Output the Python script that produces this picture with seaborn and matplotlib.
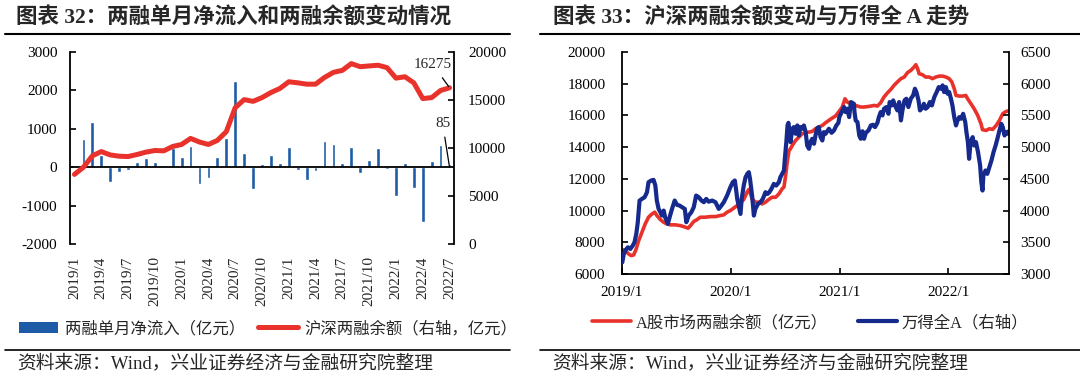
import numpy as np
import pandas as pd
import matplotlib
matplotlib.use("Agg")
import matplotlib.pyplot as plt
from matplotlib.lines import Line2D
from matplotlib.patches import Patch
import seaborn as sns

# style
sns.set_theme(style="white")
plt.rcParams['font.family'] = ['Liberation Serif', 'Noto Sans CJK SC']
plt.rcParams['axes.unicode_minus'] = False

BAR_BLUE = '#1d5ba6'
RED = '#e8322b'
NAVY = '#152a8c'

# ---- left chart data (monthly) ----
months = [f'{p.year}/{p.month}' for p in pd.period_range('2019-01', '2022-07', freq='M')]
net_inflow = [20, 740, 1165, 320, -375, -130, -70, 130, 250, 130,
              10, 510,
              260, 555, -445, -270, 260, 750, 2235, 365, -555, 80, 330, 105,
              530, -85, -330, -95, 695, 600, 113, 520, -150, 175, 513, -40,
              -750, 105, -550, -1435, 150, 575, 85]
margin_month = [7250, 7990, 9180, 9630, 9280, 9145, 9110, 9320, 9570, 9740,
                9705, 10160,
                10370, 11000, 10620, 10370, 10790, 11700, 14200, 15040, 14860, 15250, 15780, 16200,
                16900, 16790, 16650, 16650, 17350, 17880, 18090, 18790, 18470, 18550, 18620, 18370,
                17280, 17420, 16790, 15150, 15250, 15990, 16275]

# ---- right chart data ----
margin_dates = ['2019-01-02', '2019-01-12', '2019-01-23', '2019-02-01', '2019-02-09', '2019-02-17', '2019-02-26', '2019-03-09', '2019-03-20', '2019-03-31',
                '2019-04-12', '2019-04-21', '2019-04-28', '2019-05-10', '2019-05-21', '2019-06-01', '2019-06-12', '2019-06-29', '2019-07-16', '2019-07-27',
                '2019-08-11', '2019-08-19', '2019-08-30', '2019-09-10', '2019-09-21', '2019-10-08', '2019-10-25', '2019-11-11', '2019-11-28', '2019-12-09',
                '2019-12-20', '2019-12-31',
                '2020-01-11', '2020-01-23', '2020-02-03', '2020-02-14', '2020-02-25', '2020-03-02', '2020-03-08', '2020-03-13', '2020-03-24', '2020-04-05',
                '2020-04-16', '2020-04-27', '2020-05-08', '2020-05-19', '2020-05-31', '2020-06-11', '2020-06-22', '2020-06-28', '2020-07-03', '2020-07-09',
                '2020-07-15', '2020-07-20', '2020-07-26', '2020-08-06', '2020-08-17', '2020-08-28', '2020-09-09', '2020-09-20', '2020-10-01', '2020-10-12',
                '2020-10-23', '2020-11-04', '2020-11-15', '2020-11-26', '2020-12-07', '2020-12-18', '2020-12-30',
                '2021-01-10', '2021-01-19', '2021-01-27', '2021-02-07', '2021-02-18', '2021-03-02', '2021-03-13', '2021-03-24', '2021-04-10', '2021-04-27',
                '2021-05-08', '2021-05-19', '2021-05-30', '2021-06-11', '2021-06-22', '2021-07-03', '2021-07-14', '2021-07-26', '2021-08-06', '2021-08-17',
                '2021-08-28', '2021-09-08', '2021-09-14', '2021-09-20', '2021-09-25', '2021-10-06', '2021-10-17', '2021-10-29', '2021-11-09', '2021-11-20',
                '2021-12-02', '2021-12-13', '2021-12-24',
                '2022-01-04', '2022-01-13', '2022-01-21', '2022-01-27', '2022-02-07', '2022-02-18', '2022-03-01', '2022-03-07', '2022-03-18', '2022-03-29',
                '2022-04-10', '2022-04-21', '2022-04-26', '2022-05-08', '2022-05-19', '2022-05-30', '2022-06-11', '2022-06-22', '2022-07-03', '2022-07-14',
                '2022-07-23']
margin_values = [7540, 7480, 7270, 7160, 7200, 7540, 8100, 8630, 9160, 9580,
                 9790, 9900, 9690, 9430, 9260, 9160, 9100, 9100, 9050, 8990,
                 8890, 9050, 9310, 9430, 9580, 9580, 9620, 9620, 9690, 9730,
                 9900, 10000,
                 10150, 10320, 10490, 10700, 11160, 11330, 11050, 10740, 10530, 10530,
                 10420, 10530, 10700, 10840, 10840, 11050, 11370, 11480, 12110, 13050,
                 13790, 13900, 14110, 14420, 14630, 14840, 14910, 14950, 14990, 15160,
                 15260, 15370, 15540, 15690, 15830, 15960, 16250,
                 16530, 17050, 16840, 16740, 16670, 16590, 16530, 16530, 16570, 16630,
                 16590, 16800, 17160, 17430, 17640, 17900, 18110, 18320, 18420, 18700,
                 18840, 19050, 19200, 18950, 18630, 18570, 18420, 18420, 18320, 18420,
                 18480, 18480, 18420,
                 18320, 18110, 17690, 17260, 17220, 17220, 17260, 17050, 16740, 16420,
                 16000, 15470, 15100, 15050, 15160, 15120, 15370, 15690, 16110, 16250,
                 16290]

wind_dates = ['2019-01-02', '2019-01-07', '2019-01-14', '2019-01-21', '2019-01-29', '2019-02-06', '2019-02-12', '2019-02-18', '2019-02-23', '2019-03-01',
              '2019-03-09', '2019-03-18', '2019-03-26', '2019-03-31', '2019-04-09', '2019-04-17', '2019-04-23', '2019-04-28', '2019-05-04', '2019-05-10',
              '2019-05-15', '2019-05-21', '2019-05-26', '2019-06-04', '2019-06-10', '2019-06-18', '2019-06-27', '2019-07-05', '2019-07-13', '2019-07-22',
              '2019-07-31', '2019-08-05', '2019-08-13', '2019-08-22', '2019-08-30', '2019-09-07', '2019-09-16', '2019-09-25', '2019-10-03', '2019-10-11',
              '2019-10-19', '2019-10-31', '2019-11-11', '2019-11-22', '2019-12-01', '2019-12-09', '2019-12-20', '2019-12-31',
              '2020-01-08', '2020-01-15', '2020-01-19', '2020-01-23', '2020-02-03', '2020-02-07', '2020-02-14', '2020-02-20', '2020-02-26', '2020-03-02',
              '2020-03-06', '2020-03-13', '2020-03-19', '2020-03-24', '2020-04-02', '2020-04-10', '2020-04-18', '2020-04-27', '2020-05-04', '2020-05-10',
              '2020-05-17', '2020-05-25', '2020-06-02', '2020-06-11', '2020-06-16', '2020-06-22', '2020-06-28', '2020-07-01', '2020-07-06', '2020-07-10',
              '2020-07-13', '2020-07-17', '2020-07-20', '2020-07-26', '2020-07-31', '2020-08-06', '2020-08-12', '2020-08-17', '2020-08-23', '2020-08-28',
              '2020-09-03', '2020-09-09', '2020-09-14', '2020-09-20', '2020-09-25', '2020-10-01', '2020-10-07', '2020-10-12', '2020-10-18', '2020-10-23',
              '2020-10-29', '2020-11-04', '2020-11-09', '2020-11-15', '2020-11-26', '2020-12-05', '2020-12-13', '2020-12-21', '2020-12-28', '2020-12-31',
              '2021-01-08', '2021-01-16', '2021-01-21', '2021-01-27', '2021-02-02', '2021-02-08', '2021-02-18', '2021-02-20', '2021-02-24', '2021-03-02',
              '2021-03-08', '2021-03-13', '2021-03-19', '2021-03-24', '2021-03-30', '2021-04-08', '2021-04-16', '2021-04-23', '2021-04-30', '2021-05-08',
              '2021-05-13', '2021-05-19', '2021-05-25', '2021-05-30', '2021-06-07', '2021-06-14', '2021-06-18', '2021-06-25', '2021-06-30', '2021-07-06',
              '2021-07-14', '2021-07-20', '2021-07-26', '2021-07-31', '2021-08-07', '2021-08-13', '2021-08-20', '2021-08-28', '2021-09-05', '2021-09-11',
              '2021-09-16', '2021-09-23', '2021-09-28', '2021-10-08', '2021-10-11', '2021-10-17', '2021-10-24', '2021-10-31', '2021-11-07', '2021-11-15',
              '2021-11-23', '2021-11-30', '2021-12-07', '2021-12-13', '2021-12-18', '2021-12-24', '2021-12-30',
              '2022-01-04', '2022-01-10', '2022-01-15', '2022-01-21', '2022-01-27', '2022-02-01', '2022-02-07', '2022-02-13', '2022-02-20', '2022-02-27',
              '2022-03-03', '2022-03-08', '2022-03-12', '2022-03-17', '2022-03-24', '2022-03-29', '2022-04-04', '2022-04-11', '2022-04-18', '2022-04-22',
              '2022-04-26', '2022-04-29', '2022-05-06', '2022-05-12', '2022-05-19', '2022-05-26', '2022-06-02', '2022-06-09', '2022-06-15', '2022-06-22',
              '2022-06-28', '2022-07-03', '2022-07-09', '2022-07-14', '2022-07-20', '2022-07-23']
wind_values = [3184, 3316, 3384, 3421, 3395, 3447, 3500, 3632, 3816, 4158,
               4184, 4211, 4290, 4447, 4474, 4484, 4395, 4158, 4026, 3974,
               3921, 4000, 3895, 3790, 3895, 4026, 4158, 4090, 4080, 4053,
               4026, 3816, 3921, 3974, 4053, 4237, 4210, 4158, 4132, 4184,
               4140, 4158, 4132, 4026, 4080, 4132, 4237, 4368,
               4447, 4474, 4340, 4184, 3947, 4184, 4395, 4526, 4579, 4605,
               4500, 4237, 3921, 4026, 4105, 4132, 4184, 4290, 4263, 4290,
               4342, 4421, 4395, 4447, 4526, 4579, 4632, 4816, 5079, 5342,
               5384, 5237, 5079, 5290, 5316, 5211, 5342, 5184, 5316, 5290,
               5342, 5237, 5026, 4974, 5079, 5132, 5053, 5184, 5300, 5316,
               5158, 5105, 5237, 5211, 5290, 5226, 5263, 5342, 5384, 5474,
               5553, 5632, 5553, 5605, 5474, 5711, 5684, 5553, 5421, 5395,
               5184, 5132, 5250, 5132, 5226, 5263, 5342, 5353, 5316, 5384,
               5474, 5553, 5500, 5605, 5632, 5526, 5711, 5658, 5737, 5658,
               5579, 5711, 5421, 5579, 5737, 5763, 5632, 5763, 5816, 5921,
               5868, 5737, 5579, 5632, 5684, 5605, 5632, 5711, 5658, 5789,
               5868, 5947, 5921, 5974, 5868, 5947, 5842,
               5868, 5763, 5658, 5474, 5342, 5421, 5474, 5447, 5526, 5395,
               5237, 5079, 4816, 5079, 5158, 5026, 5079, 4921, 4711, 4447,
               4316, 4553, 4632, 4579, 4684, 4789, 4921, 5026, 5132, 5263,
               5368, 5316, 5184, 5237, 5211, 5250]

# ---- figure ----
W, H = 1080, 374
fig = plt.figure(figsize=(W / 100, H / 100), dpi=100)
fig.patch.set_facecolor('white')


def box(x0, y0, x1, y1):
    '''pixel box (top-left origin) -> figure fraction rect'''
    return [x0 / W, 1 - y1 / H, (x1 - x0) / W, (y1 - y0) / H]


def hline(x0, x1, y, lw=1.4):
    fig.add_artist(Line2D([x0 / W, x1 / W], [1 - y / H, 1 - y / H],
                          transform=fig.transFigure, color='black', lw=lw))


def style_spines(ax, show):
    for side, sp in ax.spines.items():
        sp.set_visible(side in show)
        sp.set_color('black')
        sp.set_linewidth(1.3)


# titles, rules, source
fig.text(16 / W, 1 - 18 / H, '图表 32：两融单月净流入和两融余额变动情况',
         fontsize=15.5, fontweight='bold', ha='left', va='center')
fig.text(553 / W, 1 - 18 / H, '图表 33：沪深两融余额变动与万得全 A 走势',
         fontsize=15.5, fontweight='bold', ha='left', va='center')
hline(5, 510, 34, lw=1.5)
hline(540, 1080, 34, lw=1.5)
hline(5, 510, 350, lw=1.2)
hline(540, 1080, 350, lw=1.2)
fig.text(17 / W, 1 - 363 / H, '资料来源：Wind，兴业证券经济与金融研究院整理',
         fontsize=13.5, ha='left', va='center')
fig.text(552 / W, 1 - 363 / H, '资料来源：Wind，兴业证券经济与金融研究院整理',
         fontsize=13.5, ha='left', va='center')

# ---- left chart ----
flow_df = pd.DataFrame({'month': months, 'flow': net_inflow, 'balance': margin_month})
flow_df['pos'] = np.arange(len(flow_df))

ax1 = fig.add_axes(box(70, 52, 454, 244))
sns.barplot(data=flow_df, x='month', y='flow', color=BAR_BLUE, saturation=1,
            width=0.42, ax=ax1)
ax1.set_xlim(-0.5, len(months) - 0.5)
ax1.set_ylim(-2000, 3000)
ax1.set_yticks(np.arange(-2000, 3001, 1000))
ax1.axhline(0, color='black', lw=1.3, zorder=1)
ax1.set_xticks(flow_df['pos'][::3])
ax1.set_xticklabels(flow_df['month'][::3], rotation=90, fontsize=11)
ax1.tick_params(axis='x', length=0, pad=9)
ax1.tick_params(axis='y', direction='in', length=4, width=1.2, left=True,
                labelsize=11, pad=9, colors='black')
ax1.set_xlabel('')
ax1.set_ylabel('')
style_spines(ax1, ['left'])

ax2 = ax1.twinx()
sns.lineplot(data=flow_df, x='pos', y='balance', color=RED, lw=3.6, ax=ax2)
ax2.set_ylim(0, 20000)
ax2.set_yticks(np.arange(0, 20001, 5000))
ax2.tick_params(axis='y', direction='in', length=4, width=1.2, right=True,
                labelsize=11, pad=10, colors='black')
ax2.set_xlabel('')
ax2.set_ylabel('')
style_spines(ax2, ['right'])

last = flow_df['pos'].iloc[-1]
ax2.annotate(f"{flow_df['balance'].iloc[-1]}", xy=(last, flow_df['balance'].iloc[-1]),
             xytext=(-12, 12), textcoords='offset points', ha='center', va='bottom',
             fontsize=11, arrowprops=dict(arrowstyle='-', color='black', lw=0.9,
                                          shrinkA=3, shrinkB=1))
ax2.annotate(f"{flow_df['flow'].iloc[-1]}", xy=(last, flow_df['flow'].iloc[-1] / 250 + 8000),
             xytext=(-5, 27), textcoords='offset points', ha='center', va='bottom',
             fontsize=11, arrowprops=dict(arrowstyle='-', color='black', lw=0.9,
                                          shrinkA=3, shrinkB=0))

left_handles = [Patch(facecolor=BAR_BLUE, edgecolor='none'),
                Line2D([], [], color=RED, lw=3.6)]
fig.legend(left_handles, ['两融单月净流入（亿元）', '沪深两融余额（右轴，亿元）'],
           loc='center', bbox_to_anchor=(268 / W, 1 - 329 / H), ncol=2, frameon=False,
           fontsize=11.8, handlelength=2.4, handletextpad=0.4, columnspacing=0.8)

# ---- right chart ----
margin_df = pd.DataFrame({'date': pd.to_datetime(margin_dates), 'value': margin_values})
wind_df = pd.DataFrame({'date': pd.to_datetime(wind_dates), 'value': wind_values})

ax3 = fig.add_axes(box(622, 52, 1009, 274))
sns.lineplot(data=margin_df, x='date', y='value', color=RED, lw=2.6, ax=ax3)
ax3.set_ylim(6000, 20000)
ax3.set_yticks(np.arange(6000, 20001, 2000))
ax3.set_xlim(pd.Timestamp('2019-01-01'), pd.Timestamp('2022-07-24'))
year_ticks = pd.to_datetime(['2019-01-01', '2020-01-01', '2021-01-01', '2022-01-01'])
ax3.set_xticks(year_ticks)
ax3.set_xticklabels([f'{d.year}/{d.month}' for d in year_ticks], fontsize=11)
ax3.tick_params(axis='x', direction='in', length=4, width=1.2, bottom=True,
                pad=9, colors='black')
ax3.tick_params(axis='y', direction='in', length=4, width=1.2, left=True,
                labelsize=11, pad=12, colors='black')
ax3.set_xlabel('')
ax3.set_ylabel('')
style_spines(ax3, ['left', 'bottom'])

ax4 = ax3.twinx()
sns.lineplot(data=wind_df, x='date', y='value', color=NAVY, lw=3.0, ax=ax4)
ax4.set_ylim(3000, 6500)
ax4.set_yticks(np.arange(3000, 6501, 500))
ax4.tick_params(axis='y', direction='in', length=4, width=1.2, right=True,
                labelsize=11, pad=8, colors='black')
ax4.set_xlabel('')
ax4.set_ylabel('')
style_spines(ax4, ['right'])

right_handles = [Line2D([], [], color=RED, lw=2.6), Line2D([], [], color=NAVY, lw=3.0)]
fig.legend(right_handles, ['A股市场两融余额（亿元）', '万得全A（右轴）'],
           loc='center', bbox_to_anchor=(810 / W, 1 - 323 / H), ncol=2, frameon=False,
           fontsize=11.8, handlelength=2.4, handletextpad=0.3, columnspacing=1.8)

fig.savefig('out.png', dpi=100)
